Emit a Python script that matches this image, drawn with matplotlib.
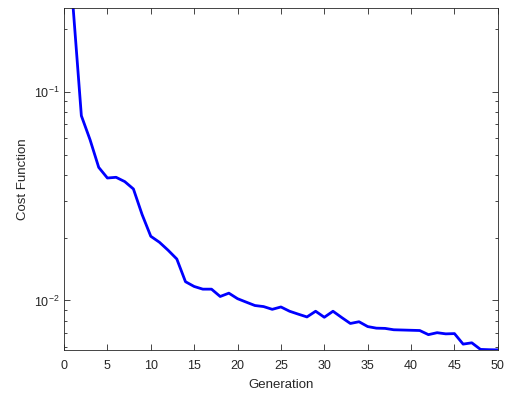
import numpy as np
import matplotlib
matplotlib.use('Agg')
import matplotlib.pyplot as plt
from matplotlib.ticker import LogLocator, FixedLocator, NullFormatter

plt.rcParams['font.family'] = ['Liberation Sans', 'DejaVu Sans']
plt.rcParams['mathtext.fontset'] = 'custom'
plt.rcParams['mathtext.rm'] = 'Liberation Sans'
plt.rcParams['mathtext.it'] = 'Liberation Sans'
plt.rcParams['axes.unicode_minus'] = False

generation = np.arange(1, 51)
cost = [
    0.27, 0.0767, 0.0589, 0.0434, 0.0386, 0.0389, 0.0371, 0.0342, 0.0258, 0.0203,
    0.0190, 0.0174, 0.0158, 0.0123, 0.01167, 0.01133, 0.01133, 0.01045, 0.01084, 0.0102,
    0.00982, 0.00946, 0.00935, 0.00907, 0.00931, 0.00888, 0.00860, 0.00834, 0.00888, 0.00831,
    0.00888, 0.00829, 0.00776, 0.00791, 0.00750, 0.00737, 0.00735, 0.00724, 0.00722, 0.00720,
    0.00718, 0.00686, 0.00701, 0.00692, 0.00694, 0.00618, 0.00627, 0.00583, 0.00581, 0.00580,
]

axcol = '#262626'

fig = plt.figure(figsize=(5.08, 3.94), dpi=100)
ax = fig.add_axes([0.126, 0.112, 0.854, 0.868])
ax.plot(generation, cost, color='#0000ff', linewidth=2.0)

ax.set_yscale('log')
ax.set_xlim(0, 50)
ax.set_ylim(0.0058, 0.252)
ax.xaxis.set_major_locator(FixedLocator(np.arange(0, 51, 5)))
ax.yaxis.set_major_locator(LogLocator(base=10))
ax.yaxis.set_minor_locator(LogLocator(base=10, subs=np.arange(2, 10)))
ax.yaxis.set_minor_formatter(NullFormatter())

ax.tick_params(which='both', direction='in', top=True, right=True,
               colors=axcol, labelsize=9, labelcolor=axcol)
ax.tick_params(which='major', length=4, width=0.6)
ax.tick_params(which='minor', length=2.5, width=0.6)
ax.tick_params(axis='x', pad=7)
ax.tick_params(axis='y', pad=3)
for s in ax.spines.values():
    s.set_color(axcol)
    s.set_linewidth(0.6)

ax.set_xlabel('Generation', fontsize=9.5, color=axcol, labelpad=5)
ax.set_ylabel('Cost Function', fontsize=9.5, color=axcol, labelpad=4)

fig.savefig('out.png', dpi=100)
